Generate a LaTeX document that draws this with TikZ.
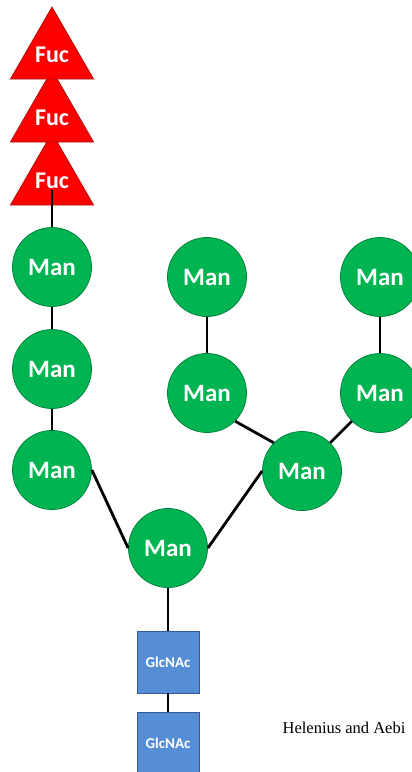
\documentclass[tikz,border=0pt]{standalone}
\usepackage{fontspec}
\setmainfont{Liberation Serif}
\newfontfamily\glyfont{Carlito}
\usetikzlibrary{shapes.geometric}
\definecolor{mangreen}{RGB}{0,180,82}
\definecolor{mandark}{RGB}{0,130,60}
\definecolor{fucred}{RGB}{255,0,0}
\definecolor{fucdark}{RGB}{170,20,20}
\definecolor{glcblue}{RGB}{85,142,213}
\definecolor{glcdark}{RGB}{50,90,150}
\tikzset{
  man/.style={circle, fill=mangreen, draw=mandark, line width=0.8pt, minimum size=79pt, inner sep=0pt,
    text=white, font=\glyfont\bfseries\fontsize{25}{25}\selectfont},
  fuc/.style={regular polygon, regular polygon sides=3, fill=fucred, draw=fucdark, line width=0.8pt,
    minimum size=90pt, inner sep=0pt, text=white, font=\glyfont\bfseries\fontsize{24}{24}\selectfont},
  glc/.style={rectangle, fill=glcblue, draw=glcdark, line width=0.8pt, minimum size=62pt, inner sep=0pt,
    text=white, font=\glyfont\bfseries\fontsize{15}{15}\selectfont},
  link/.style={line width=2.8pt, black}
}
\begin{document}
\begin{tikzpicture}[x=1pt,y=-1pt]
\useasboundingbox (0,0) rectangle (412,772);
% triangles: bottom first so the upper overlaps
\node[fuc] (f3) at (52,181) {Fuc};
\node[fuc] (f2) at (52,118) {Fuc};
\node[fuc] (f1) at (52,55) {Fuc};
% mannoses
\node[man] (m1) at (52,267) {Man};
\node[man] (m2) at (52,369) {Man};
\node[man] (m3) at (52,470) {Man};
\node[man] (m4) at (168,548) {Man};
\node[man] (m5) at (207,277) {Man};
\node[man] (m6) at (207,393) {Man};
\node[man] (m7) at (302,471) {Man};
\node[man] (m8) at (380,277) {Man};
\node[man] (m9) at (380,393) {Man};
% GlcNAc
\node[glc] (g1) at (168,662) {GlcNAc};
\node[glc] (g2) at (168,743) {GlcNAc};
% text
\node[font=\fontsize{16.5}{16.5}\selectfont] (cite) at (344,728) {Helenius and Aebi};
% links
\coordinate (fstart) at (52,190);
\draw[link] (fstart) -- (m1.north);
\draw[link] (m1) -- (m2);
\draw[link] (m2) -- (m3);
\draw[link] (m3.east) -- (m4.west);
\draw[link] (m7.west) -- (m4.east);
\draw[link] (m6.south east) -- (m7.north west);
\draw[link] (m9.south west) -- (m7.north east);
\draw[link] (m5) -- (m6);
\draw[link] (m8) -- (m9);
\draw[link] (m4) -- (g1);
\draw[link] (g1) -- (g2);
\end{tikzpicture}
\end{document}
